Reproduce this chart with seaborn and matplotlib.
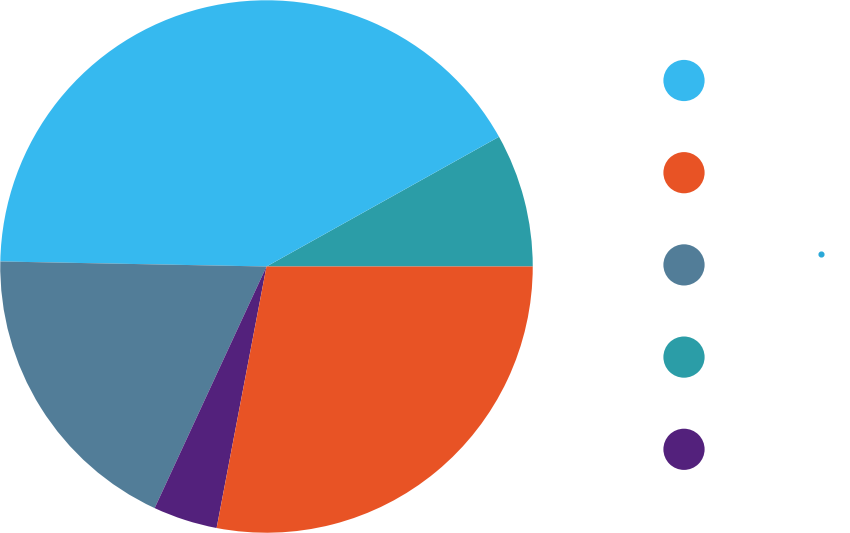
import matplotlib
matplotlib.use("Agg")
import matplotlib.pyplot as plt
from matplotlib.lines import Line2D
import seaborn as sns
import pandas as pd

sns.set_theme(style="white")
plt.rcParams['font.family'] = ['DejaVu Sans']

# Pie slices, counter-clockwise from 3 o'clock
slice_names = ["Teal", "Blue", "Slate", "Purple", "Orange"]
slice_values = [8.1, 41.6, 18.4, 3.9, 28.0]
slice_colors = ["#2B9DA7", "#36B9EF", "#527D98", "#53217C", "#E85325"]

# Legend order (top to bottom)
legend_names = ["Blue", "Orange", "Slate", "Teal", "Purple"]
legend_colors = ["#36B9EF", "#E85325", "#527D98", "#2B9DA7", "#53217C"]

W, H = 850, 533
fig = plt.figure(figsize=(W / 100, H / 100), dpi=100)
fig.patch.set_facecolor("white")

# Pie axes
ax = fig.add_axes([0, 0, 533 / W, 1])
ax.pie(slice_values, colors=slice_colors, startangle=0, counterclock=True,
       radius=1.0, wedgeprops=dict(linewidth=0))
ax.set_xlim(-1.001, 1.001)
ax.set_ylim(-1.001, 1.001)
ax.set_aspect("equal")
ax.axis("off")

# Legend dots (no text)
top_px, step = 80.5, 92.2
y_top = top_px - step / 2
y_bot = top_px + 4 * step + step / 2
lax = fig.add_axes([634 / W, (H - y_bot) / H, 100 / W, (y_bot - y_top) / H])
df = pd.DataFrame({"x": [0] * len(legend_names), "cat": legend_names})
sns.scatterplot(data=df, x="x", y="cat", hue="cat", palette=legend_colors,
                s=880, linewidth=0, legend=False, ax=lax)
lax.set_xlim(-1, 1)
lax.set_ylim(4.5, -0.5)
lax.axis("off")

# small stray dot
fig.add_artist(Line2D([821 / W], [1 - 254 / H], marker="o", markersize=3.4,
                      color="#29A8D8", linewidth=0, transform=fig.transFigure))

fig.savefig("out.png", dpi=100, facecolor="white")
